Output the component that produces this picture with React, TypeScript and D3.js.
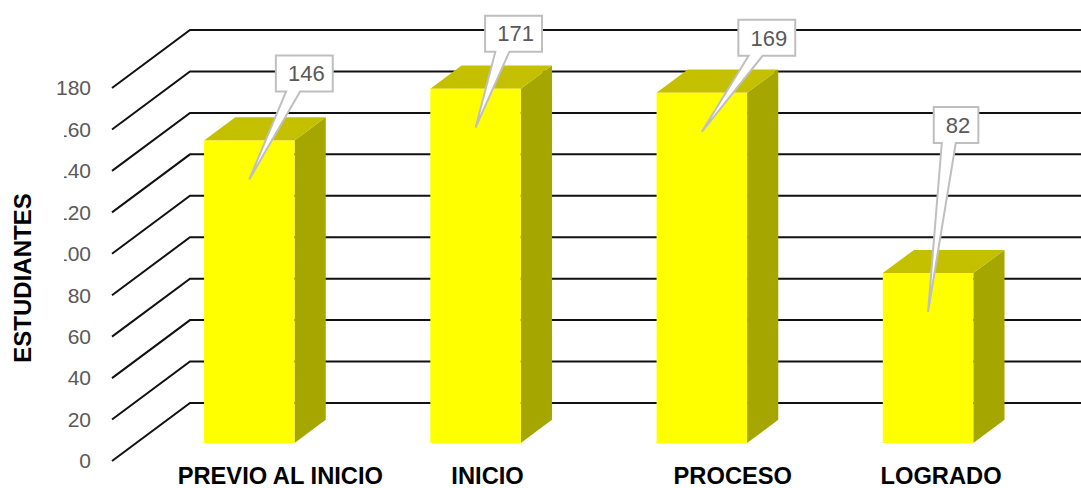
import React from "react";
import * as d3 from "d3";

const categories = ["PREVIO AL INICIO", "INICIO", "PROCESO", "LOGRADO"];
const values = [146, 171, 169, 82];
const tickValues = [0, 20, 40, 60, 80, 100, 120, 140, 160, 180];
const axisTitle = "ESTUDIANTES";
// callout box offset relative to the pointer tip (layout, not data)
const calloutOffsets: [number, number][] = [
  [55, -88],
  [38, -76],
  [65, -76],
  [28, -169],
];
// category label horizontal nudge relative to bar centre (layout)
const labelShift = [31, 12, 31, 13];

const W = 1081;
const H = 488;
const DX = 78; // depth shift x
const DY = 58; // depth shift y
const FRONT_LEFT = 112;
const FRONT_RIGHT = 1017;
const BAR_D0 = 0.31;
const BAR_D1 = 0.71;

const yScale = d3.scaleLinear().domain([0, 180]).range([461, 88]);
const xBand = d3
  .scaleBand<string>()
  .domain(categories)
  .range([FRONT_LEFT, FRONT_RIGHT])
  .paddingInner(0.6)
  .paddingOuter(0.3);

const proj = (x: number, v: number, d: number): [number, number] => [
  x + d * DX,
  yScale(v) - d * DY,
];

const pts = (arr: [number, number][]) => arr.map((p) => p.join(",")).join(" ");

export default function App() {
  const bw = xBand.bandwidth();
  const numFont = "'Liberation Sans', Arial, sans-serif";
  return (
    <svg
      width={W}
      height={H}
      style={{ position: "absolute", left: 0, top: 0, background: "#fff" }}
      fontFamily={numFont}
    >
      {/* gridlines: diagonal side wall + back wall */}
      {tickValues.map((t) => {
        const a = proj(FRONT_LEFT, t, 0);
        const b = proj(FRONT_LEFT, t, 1);
        return (
          <polyline
            key={"g" + t}
            points={pts([a, b, [W, b[1]]])}
            fill="none"
            stroke="#111"
            strokeWidth={2}
          />
        );
      })}
      {/* tick labels */}
      {tickValues.map((t) => (
        <text
          key={"t" + t}
          x={91}
          y={yScale(t)}
          dy="0.35em"
          textAnchor="end"
          fontSize={21}
          fill="#595959"
        >
          {t}
        </text>
      ))}
      {/* title backdrop that overlaps the tick labels */}
      <rect x={0} y={106} width={64} height={340} fill="#fff" />
      <text
        transform={`translate(31,278) rotate(-90)`}
        textAnchor="middle"
        fontSize={24}
        fontWeight="bold"
        fill="#000"
      >
        {axisTitle}
      </text>
      {/* bars */}
      {categories.map((c, i) => {
        const v = values[i];
        const x0 = xBand(c)!;
        const x1 = x0 + bw;
        const fBL = proj(x0, 0, BAR_D0);
        const fBR = proj(x1, 0, BAR_D0);
        const fTL = proj(x0, v, BAR_D0);
        const fTR = proj(x1, v, BAR_D0);
        const bTL = proj(x0, v, BAR_D1);
        const bTR = proj(x1, v, BAR_D1);
        const bBR = proj(x1, 0, BAR_D1);
        return (
          <g key={"b" + c}>
            <polygon points={pts([fBR, fTR, bTR, bBR])} fill="#A6A600" />
            <polygon points={pts([fTL, fTR, bTR, bTL])} fill="#C4C000" />
            <polygon points={pts([fBL, fBR, fTR, fTL])} fill="#FFFF00" />
          </g>
        );
      })}
      {/* callouts */}
      {categories.map((c, i) => {
        const v = values[i];
        const x0 = xBand(c)!;
        const front = proj(x0 + bw / 2, v, BAR_D0);
        const tip: [number, number] = [front[0], front[1] + 39];
        const label = String(v);
        const bwid = label.length * 12.3 + 20;
        const bh = 36;
        const cx = tip[0] + calloutOffsets[i][0];
        const by = tip[1] + calloutOffsets[i][1];
        const left = cx - bwid / 2;
        const top = by - bh;
        const b0 = left + bwid * 0.18;
        const b1 = b0 + 14;
        return (
          <g key={"c" + c}>
            <path
              d={`M${left},${top} H${left + bwid} V${by} H${b1} L${tip[0]},${tip[1]} L${b0},${by} H${left} Z`}
              fill="#fff"
              stroke="#BFBFBF"
              strokeWidth={2}
              strokeLinejoin="miter"
            />
            <text
              x={cx + 2}
              y={by - bh / 2}
              dy="0.35em"
              textAnchor="middle"
              fontSize={22}
              fill="#595959"
            >
              {label}
            </text>
          </g>
        );
      })}
      {/* category labels */}
      {categories.map((c, i) => (
        <text
          key={"l" + c}
          x={proj(xBand(c)! + bw / 2, 0, BAR_D0)[0] + labelShift[i]}
          y={484}
          textAnchor="middle"
          fontSize={23.7}
          fontWeight="bold"
          fill="#000"
        >
          {c}
        </text>
      ))}
    </svg>
  );
}
